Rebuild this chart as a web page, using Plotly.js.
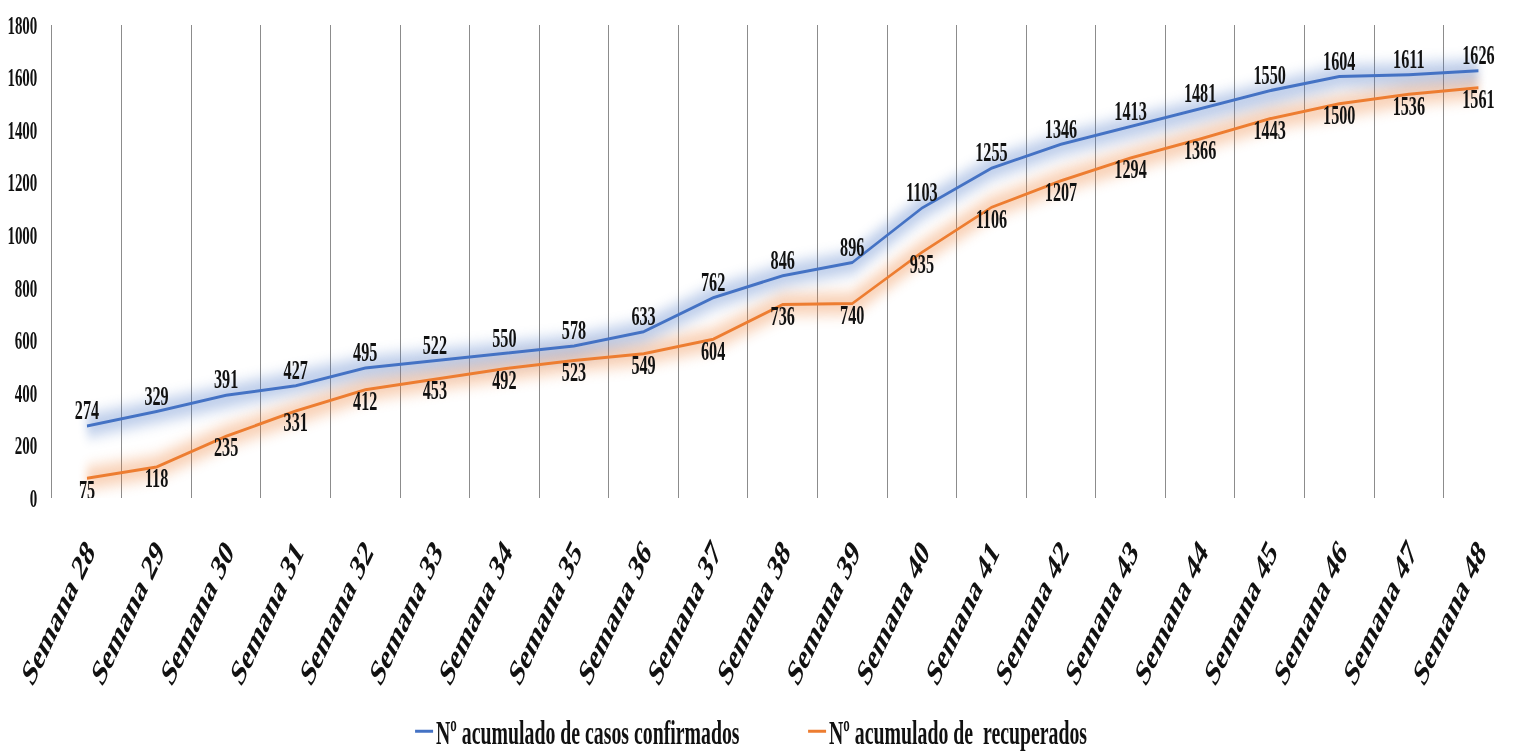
<!DOCTYPE html>
<html>
<head>
<meta charset="utf-8">
<script src="https://cdn.plot.ly/plotly-3.0.1.min.js"></script>
<style>
html, body { margin: 0; padding: 0; overflow: hidden; background: #fff; }
#wrap { width: 1515px; height: 754px; overflow: hidden; }
#chart { width: 2525px; height: 754px; transform: scaleX(0.6); transform-origin: 0 0; }
</style>
</head>
<body>
<div id="wrap"><div id="chart"></div></div>
<script>
const weeks = ["Semana 28","Semana 29","Semana 30","Semana 31","Semana 32","Semana 33","Semana 34","Semana 35","Semana 36","Semana 37","Semana 38","Semana 39","Semana 40","Semana 41","Semana 42","Semana 43","Semana 44","Semana 45","Semana 46","Semana 47","Semana 48"];
const confirmados = [274,329,391,427,495,522,550,578,633,762,846,896,1103,1255,1346,1413,1481,1550,1604,1611,1626];
const recuperados = [75,118,235,331,412,453,492,523,549,604,736,740,935,1106,1207,1294,1366,1443,1500,1536,1561];
const yTicks = [0,200,400,600,800,1000,1200,1400,1600,1800];

const BLUE = '#4472C4';
const ORANGE = '#ED7D31';
const FONT = 'Liberation Serif, Times New Roman, serif';

function glow(y, color, w, op) {
  return { x: weeks, y: y, type: 'scatter', mode: 'lines', line: { color: color, width: w }, opacity: op, showlegend: false, hoverinfo: 'skip' };
}

const traces = [
  glow(recuperados, ORANGE, 22, 0.35),
  glow(confirmados, BLUE, 22, 0.35),
  {
    x: weeks, y: confirmados, type: 'scatter', mode: 'lines+text',
    name: 'Nº acumulado de casos confirmados',
    line: { color: BLUE, width: 3 },
    text: confirmados.map(String), textposition: 'top center',
    textfont: { family: FONT, size: 27, weight: 700, color: '#111' }
  },
  {
    x: weeks, y: recuperados, type: 'scatter', mode: 'lines+text',
    name: 'Nº acumulado de  recuperados',
    line: { color: ORANGE, width: 3 },
    text: recuperados.map(String), textposition: 'bottom center',
    textfont: { family: FONT, size: 27, weight: 700, color: '#111' }
  }
];

const layout = {
  width: 2525, height: 754,
  margin: { l: 87, r: 3, t: 25, b: 256, autoexpand: false },
  paper_bgcolor: '#fff', plot_bgcolor: '#fff',
  showlegend: true,
  legend: {
    orientation: 'h', xref: 'container', yref: 'container',
    x: 0.272, xanchor: 'left', y: 0.03, yanchor: 'middle',
    font: { family: FONT, size: 33, weight: 700, color: '#111' },
    entrywidth: 610, entrywidthmode: 'pixels',
    traceorder: 'normal'
  },
  xaxis: {
    type: 'category', tickson: 'boundaries', showgrid: true,
    gridcolor: '#8c8c8c', gridwidth: 1.7, ticks: '', showline: false, zeroline: false,
    tickangle: -52, ticklabelstandoff: 24, automargin: false,
    tickfont: { family: FONT, size: 37, weight: 700, color: '#111' },
    range: [-0.5, 20.5], fixedrange: true
  },
  yaxis: {
    range: [0, 1800], tickvals: yTicks, ticktext: yTicks.map(String),
    showgrid: false, zeroline: false, showline: true, linecolor: '#8c8c8c', linewidth: 1.7,
    ticks: '', ticklabelstandoff: 18, automargin: false,
    tickfont: { family: FONT, size: 25, weight: 700, color: '#111' }, fixedrange: true
  }
};

Plotly.newPlot('chart', traces, layout, { displayModeBar: false, staticPlot: true }).then(function (gd) {
  const tr = gd.querySelectorAll('.scatterlayer .trace');
  for (let i = 0; i < 2; i++) {
    tr[i].querySelectorAll('path.js-line').forEach(function (p) { p.style.filter = 'blur(7px)'; });
  }
});
</script>
</body>
</html>
